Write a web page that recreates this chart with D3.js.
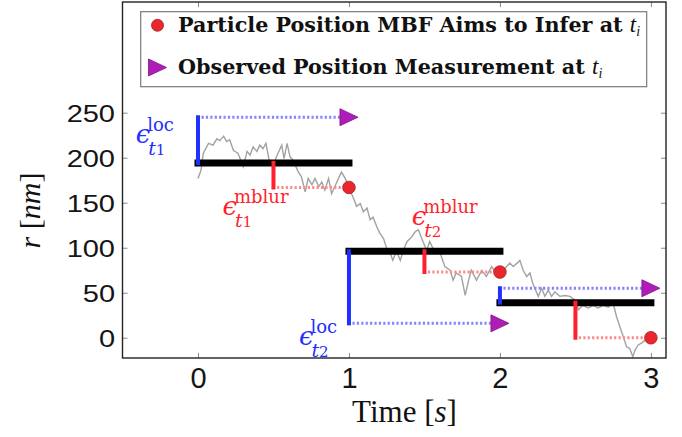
<!DOCTYPE html>
<html>
<head>
<meta charset="utf-8">
<script src="https://cdn.jsdelivr.net/npm/d3@7"></script>
<style>
body { margin: 0; background: #fff; }
</style>
</head>
<body>
<div id="chart"></div>
<script>
// particle trajectory (gray)
var trajT = [0, 0.02, 0.035, 0.07, 0.10, 0.125, 0.145, 0.17, 0.19, 0.21, 0.235, 0.265, 0.30, 0.325, 0.345, 0.365, 0.39, 0.41, 0.43, 0.45,
  0.475, 0.51, 0.53, 0.555, 0.57, 0.59, 0.61, 0.63, 0.665, 0.685, 0.71, 0.73, 0.755, 0.775, 0.80, 0.82, 0.84, 0.865, 0.885, 0.92,
  0.95, 0.975, 1.0, 1.03, 1.05, 1.075, 1.095, 1.12, 1.14, 1.16, 1.185, 1.205, 1.23, 1.25, 1.27, 1.29, 1.315, 1.34, 1.36, 1.385,
  1.415, 1.44, 1.46, 1.49, 1.515, 1.535, 1.57, 1.60, 1.635, 1.67, 1.69, 1.71, 1.745, 1.77, 1.79, 1.81, 1.845, 1.88, 1.91, 1.945,
  1.975, 2.0, 2.033, 2.066, 2.088, 2.121, 2.132, 2.154, 2.177, 2.199, 2.22, 2.254, 2.276, 2.298, 2.32, 2.342, 2.364, 2.397, 2.43, 2.464,
  2.497, 2.52, 2.55, 2.585, 2.618, 2.65, 2.684, 2.717, 2.75, 2.773, 2.795, 2.817, 2.839, 2.86, 2.88, 2.894, 2.916, 2.938, 2.96, 2.982, 3.0];
var trajR = [177, 186, 205, 216, 214, 221, 219, 224, 218, 220, 208, 205, 190, 207, 203, 212, 207, 214, 210, 216,
  194, 197, 205, 214, 199, 216, 201, 197, 184, 179, 162, 177, 170, 177, 168, 173, 164, 177, 160, 173,
  184, 177, 167, 155, 146, 149, 140, 144, 131, 134, 123, 116, 110, 99, 96, 86, 96, 86, 97, 107,
  112, 118, 120, 107, 97, 107, 94, 96, 79, 75, 64, 72, 68, 47, 62, 75, 64, 75, 68, 79,
  72, 73, 77, 83, 79, 84, 86, 75, 68, 72, 59, 46, 55, 46, 53, 46, 51, 46, 47, 46,
  42, 31, 36, 33, 36, 33, 36, 34, 38, 23, 12, 1, -10, -12, -21, -14, -8, -6, -3, -1, 0];

// frames
var segStart = [0, 1, 2];
var segEnd = [1, 2, 3];
var barR = [194, 96, 39];      // black bars
var measR = [245, 16, 55];     // observed measurement (triangles)
var trueR = [167, 73, 0];      // position to infer (circles)
var blurT = [0.5, 1.5, 2.5];   // red motion blur marks

var xTicks = [0, 1, 2, 3];
var yTicks = [0, 50, 100, 150, 200, 250];
var legendLabels = ["Particle Position MBF Aims to Infer at ", "Observed Position Measurement at "];

var width = 682, height = 437;
var blue = "#1f30ff", red = "#ff1f2e", purple = "#b01cb8";

var x = d3.scaleLinear().domain([-0.5, 3.1]).range([122.5, 666]);
var y = d3.scaleLinear().domain([-22.5, 373]).range([358, 2]);

var svg = d3.select("#chart").append("svg").attr("width", width).attr("height", height);

svg.append("clipPath").attr("id", "plotclip").append("rect")
  .attr("x", 122.5).attr("y", 2).attr("width", 543.5).attr("height", 356);

// axes, ticks point inwards
var gx = svg.append("g").attr("transform", "translate(0,358)")
  .call(d3.axisBottom(x).tickValues(xTicks).tickSize(-5).tickPadding(9.3).tickFormat(d3.format("d")));
var gxt = svg.append("g").attr("transform", "translate(0,2)")
  .call(d3.axisTop(x).tickValues(xTicks).tickSize(-5).tickFormat(""));
var gy = svg.append("g").attr("transform", "translate(122.5,0)")
  .call(d3.axisLeft(y).tickValues(yTicks).tickSize(-5).tickPadding(7.5));
var gyr = svg.append("g").attr("transform", "translate(666,0)")
  .call(d3.axisRight(y).tickValues(yTicks).tickSize(-5).tickFormat(""));
[gx, gxt, gy, gyr].forEach(function(g) {
  g.select(".domain").remove();
  g.selectAll(".tick line").attr("stroke", "#8a8a8a").attr("stroke-width", 1);
});
gx.selectAll(".tick text")
  .style("font", "29px 'Liberation Sans', Arial, sans-serif").attr("fill", "#151515");
gy.selectAll(".tick text")
  .style("font", "29px 'Liberation Sans', Arial, sans-serif").attr("fill", "#151515")
  .attr("dy", "0.358em").attr("transform", "scale(1,0.8)");

// trajectory
var plot = svg.append("g").attr("clip-path", "url(#plotclip)");
var line = d3.line()
  .x(function(d) { return x(trajT[d]); })
  .y(function(d) { return y(trajR[d]); });
plot.append("path")
  .attr("d", line(d3.range(trajT.length)))
  .attr("fill", "none").attr("stroke", "#a2a2a2").attr("stroke-width", 1.4);

var idx = d3.range(segStart.length);

// black bars
plot.selectAll(".bar").data(idx).enter().append("line")
  .attr("x1", function(i) { return x(segStart[i]); })
  .attr("x2", function(i) { return x(segEnd[i]); })
  .attr("y1", function(i) { return y(barR[i]); })
  .attr("y2", function(i) { return y(barR[i]); })
  .attr("stroke", "#000").attr("stroke-width", 7).attr("stroke-linecap", "square");

// localisation error (blue)
plot.selectAll(".locdot").data(idx).enter().append("line")
  .attr("x1", function(i) { return x(segStart[i]) + 3.5; })
  .attr("x2", function(i) { return x(segEnd[i]) - 6; })
  .attr("y1", function(i) { return y(measR[i]); })
  .attr("y2", function(i) { return y(measR[i]); })
  .attr("stroke", "#8484ff").attr("stroke-width", 3).attr("stroke-dasharray", "2.2,2.2");
plot.selectAll(".loc").data(idx).enter().append("line")
  .attr("x1", function(i) { return x(segStart[i]); })
  .attr("x2", function(i) { return x(segStart[i]); })
  .attr("y1", function(i) { return y(barR[i]); })
  .attr("y2", function(i) { return y(measR[i]); })
  .attr("stroke", blue).attr("stroke-width", 4).attr("stroke-linecap", "square");

// motion blur error (red)
plot.selectAll(".blurdot").data(idx).enter().append("line")
  .attr("x1", function(i) { return x(blurT[i]) + 3.5; })
  .attr("x2", function(i) { return x(segEnd[i]) - 4; })
  .attr("y1", function(i) { return y(trueR[i]); })
  .attr("y2", function(i) { return y(trueR[i]); })
  .attr("stroke", "#ff8a8a").attr("stroke-width", 3).attr("stroke-dasharray", "2.2,2.2");
plot.selectAll(".blur").data(idx).enter().append("line")
  .attr("x1", function(i) { return x(blurT[i]); })
  .attr("x2", function(i) { return x(blurT[i]); })
  .attr("y1", function(i) { return y(barR[i]); })
  .attr("y2", function(i) { return y(trueR[i]); })
  .attr("stroke", red).attr("stroke-width", 4).attr("stroke-linecap", "square");

// markers
var tri = "M-9,-8.5L9,0L-9,8.5Z";
svg.selectAll(".meas").data(idx).enter().append("path")
  .attr("d", tri)
  .attr("transform", function(i) { return "translate(" + x(segEnd[i]) + "," + y(measR[i]) + ")"; })
  .attr("fill", purple).attr("stroke", "#7a1585").attr("stroke-width", 0.8);
svg.selectAll(".truth").data(idx).enter().append("circle")
  .attr("cx", function(i) { return x(segEnd[i]); })
  .attr("cy", function(i) { return y(trueR[i]); })
  .attr("r", 6.3)
  .attr("fill", "#e8282e").attr("stroke", "#a81c1c").attr("stroke-width", 0.8);

// frame
svg.append("rect").attr("x", 122.5).attr("y", 2).attr("width", 543.5).attr("height", 356)
  .attr("fill", "none").attr("stroke", "#222").attr("stroke-width", 1.4);

// epsilon annotations: one text, sup and sub as tspans
function eps(color, lx, by, sup, sub) {
  var t = svg.append("text").attr("x", lx).attr("y", by).attr("fill", color)
    .style("font", "italic 26px 'DejaVu Serif', serif");
  var e = t.append("tspan").text("\u03f5");
  var w = e.node().getComputedTextLength();
  var sp = t.append("tspan").attr("x", lx + 11.5).attr("dy", -12)
    .style("font-style", "normal").style("font-size", "18px").text(sup);
  t.append("tspan").attr("x", lx + 12.5).attr("dy", 23.7)
    .style("font-size", "19px").text("t");
  t.append("tspan").style("font-style", "normal").style("font-size", "15px").text(sub);
}
eps(blue, x(segStart[0]) - 62.3, y(measR[0]) + 26, "loc", "1");
eps(blue, x(segStart[1]) - 50, y(measR[1]) + 22, "loc", "2");
eps(red, x(blurT[0]) - 51, y(trueR[0]) + 28, "mblur", "1");
eps(red, x(blurT[1]) - 12.8, y(barR[1]) - 26, "mblur", "2");

// axis labels
svg.append("text").attr("x", 404.5).attr("y", 421.7).attr("text-anchor", "middle")
  .style("font", "31px 'Liberation Serif', serif").attr("fill", "#111")
  .call(function(t) {
    t.append("tspan").text("Time [");
    t.append("tspan").style("font-style", "italic").text("s");
    t.append("tspan").text("]");
  });
svg.append("text").attr("transform", "translate(39.5,210.5) rotate(-90)").attr("text-anchor", "middle")
  .style("font", "30px 'Liberation Serif', serif").attr("fill", "#111")
  .call(function(t) {
    t.append("tspan").style("font-style", "italic").text("r");
    t.append("tspan").text(" [");
    t.append("tspan").style("font-style", "italic").text("nm");
    t.append("tspan").text("]");
  });

// legend
var lg = svg.append("g");
lg.append("rect").attr("x", 140.7).attr("y", 11.7).attr("width", 506).attr("height", 75)
  .attr("fill", "#fff").attr("stroke", "#7a7a7a").attr("stroke-width", 1.2);
lg.append("circle").attr("cx", 157.5).attr("cy", 25.3).attr("r", 6)
  .attr("fill", "#e8282e").attr("stroke", "#a81c1c").attr("stroke-width", 0.8);
lg.append("path").attr("d", tri).attr("transform", "translate(157.5,67.5)")
  .attr("fill", purple).attr("stroke", "#7a1585").attr("stroke-width", 0.8);
[31.7, 74].forEach(function(by, i) {
  var t = lg.append("text").attr("x", 178).attr("y", by)
    .style("font", "bold 20.7px 'DejaVu Serif', serif").attr("fill", "#111");
  t.append("tspan").text(legendLabels[i]);
  t.append("tspan").style("font-style", "italic").style("font-weight", "normal")
    .style("font-family", "'Liberation Serif', serif").style("font-size", "23px").text("t");
  t.append("tspan").attr("dy", 4).style("font-style", "italic").style("font-weight", "normal")
    .style("font-family", "'Liberation Serif', serif").style("font-size", "14px").text("i");
});
</script>
</body>
</html>
